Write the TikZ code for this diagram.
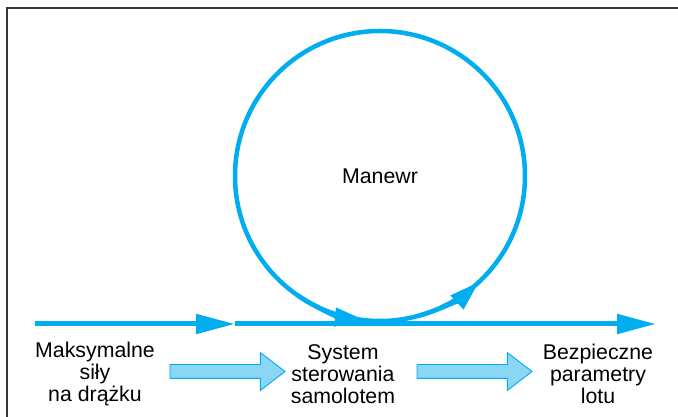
\documentclass[tikz,border=0pt]{standalone}
\usepackage{fontspec}
\setmainfont{Liberation Sans}
\usepackage{xcolor}
\usepackage{tikz}
\usetikzlibrary{positioning, arrows.meta, shapes.arrows}

\definecolor{flow}{RGB}{0,174,239}
\definecolor{flowfill}{RGB}{140,214,245}
\definecolor{frame}{RGB}{55,55,55}

\tikzset{
  lbl/.style={align=center, font=\fontsize{21.3}{22}\selectfont},
  flowline/.style={draw=flow, line width=5pt},
  blockarrow/.style={single arrow, draw=flow, fill=flowfill, line width=0.9pt,
    minimum height=115pt, inner xsep=0pt, inner ysep=6.5pt,
    single arrow head extend=12pt, single arrow tip angle=75}
}

\begin{document}
\begin{tikzpicture}[x=1pt,y=1pt,>={Triangle[length=39pt,width=19pt]}]
\useasboundingbox (0,0) rectangle (678,417);

% Frame
\draw[frame, line width=1.6pt] (7,0) -- (7,409) -- (678,409);

% Nodes
\node[circle, draw=flow, line width=4.5pt, minimum size=290pt, inner sep=0pt, outer sep=0pt,
  font=\fontsize{21.3}{22}\selectfont] (loop) at (380,241) {Manewr};
\coordinate (start) at (35,93);
\coordinate (mid) at (235,93);
\coordinate (stop) at (656,93);

\node[lbl] (sticks) at (95,43) {Maksymalne\\siły\\na drążku};
\node[lbl] (ctrl) at (343,43) {System\\sterowania\\samolotem};
\node[lbl] (safe) at (598,43) {Bezpieczne\\parametry\\lotu};

\node[blockarrow] (a1) at (223,45.5) {};
\node[blockarrow] (a2) at (470,45.5) {};

% Arrows
\draw[flowline, ->] (start) -- (mid);
\draw[flowline, ->] (mid) -- (stop);
\draw[draw=flow, line width=4.5pt, -{Triangle[length=30pt,width=18pt]}]
  (loop.235) arc[start angle=235, end angle=264, radius=145];
\draw[draw=flow, line width=4.5pt, -{Triangle[length=30pt,width=18pt]}]
  (loop.285) arc[start angle=285, end angle=313, radius=145];

\end{tikzpicture}
\end{document}
